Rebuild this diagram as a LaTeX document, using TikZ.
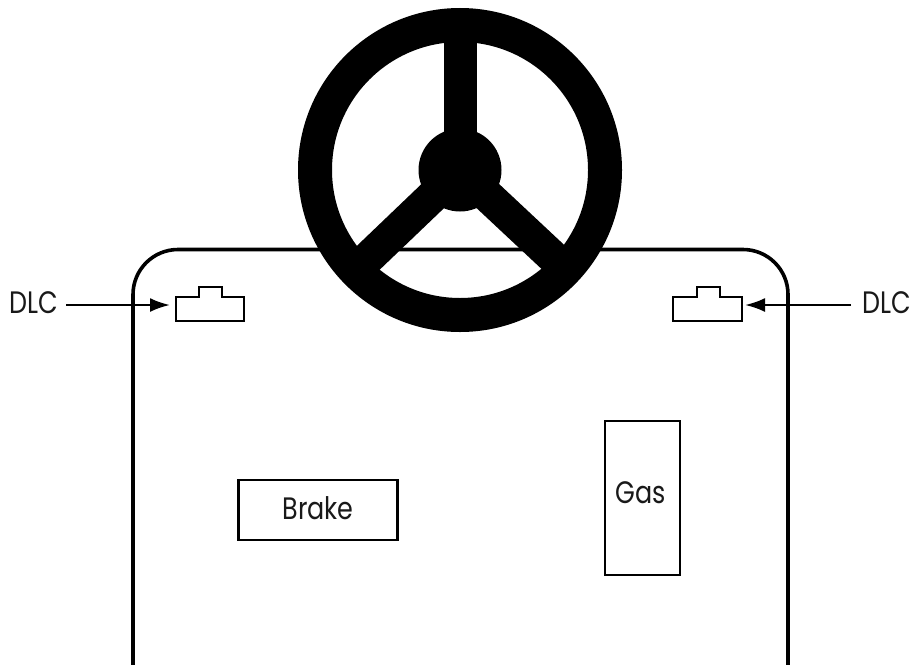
\documentclass[tikz,border=0pt]{standalone}
\usepackage{fontspec}
\setmainfont[FakeStretch=0.82]{Poppins}
\usetikzlibrary{arrows.meta}
\tikzset{
  outline/.style={line width=3.6pt,line join=round},
  thinbox/.style={draw=black,line width=2.4pt,inner sep=0pt,fill=white},
  pedal/.style={thinbox,align=center},
  lbl/.style={font=\fontsize{31}{34}\selectfont,inner sep=0pt,text=black!90},
  lead/.style={line width=2.4pt,-{Latex[length=20pt,width=14pt]}},
  conn/.style={draw=black,line width=2.4pt,line join=miter,fill=white},
  rim/.style={draw=black,line width=34pt},
  spoke/.style={draw=black,line width=33pt,line cap=butt}
}
\begin{document}
\begin{tikzpicture}[x=1pt,y=-1pt]
\useasboundingbox (0,0) rectangle (912,664);
% car body outline
\begin{scope}
\clip (0,0) rectangle (912,664);
\draw[outline] (133,670) -- (133,294.5) arc[start angle=180,end angle=90,x radius=45,y radius=-45] -- (743,249.5) arc[start angle=90,end angle=0,x radius=45,y radius=-45] -- (788,670);
\end{scope}
% connectors
\draw[conn] (176,321) -- (176,297) -- (199,297) -- (199,287) -- (222,287) -- (222,297) -- (244,297) -- (244,321) -- cycle;
\draw[conn] (673,321) -- (673,297) -- (697,297) -- (697,287) -- (720,287) -- (720,297) -- (742,297) -- (742,321) -- cycle;
\coordinate (tipL) at (170,305);
\coordinate (tipR) at (745,305);
\node[lbl,anchor=east] (lblL) at (58,303) {DLC};
\node[lbl,anchor=west] (lblR) at (862,303) {DLC};
\draw[lead] ([xshift=8pt]lblL.east |- tipL) -- (tipL);
\draw[lead] ([xshift=-11pt]lblR.west |- tipR) -- (tipR);
% pedals
\node[pedal,minimum width=159pt,minimum height=60pt] (brake) at (318,510) {};
\node[lbl] (brakelbl) at (318,508.5) {Brake};
\node[pedal,minimum width=75pt,minimum height=154pt] (gas) at (642.5,498) {};
\node[lbl] (gaslbl) at (641,493) {Gas};
% steering wheel
\coordinate (hubc) at (460,170);
\draw[rim] (hubc) circle[radius=145pt];
\draw[spoke] (hubc) -- (460,30);
\draw[spoke] (hubc) -- (367,259);
\draw[spoke] (hubc) -- (554,258);
\fill[black] (hubc) circle[radius=41.5pt];
\end{tikzpicture}
\end{document}
